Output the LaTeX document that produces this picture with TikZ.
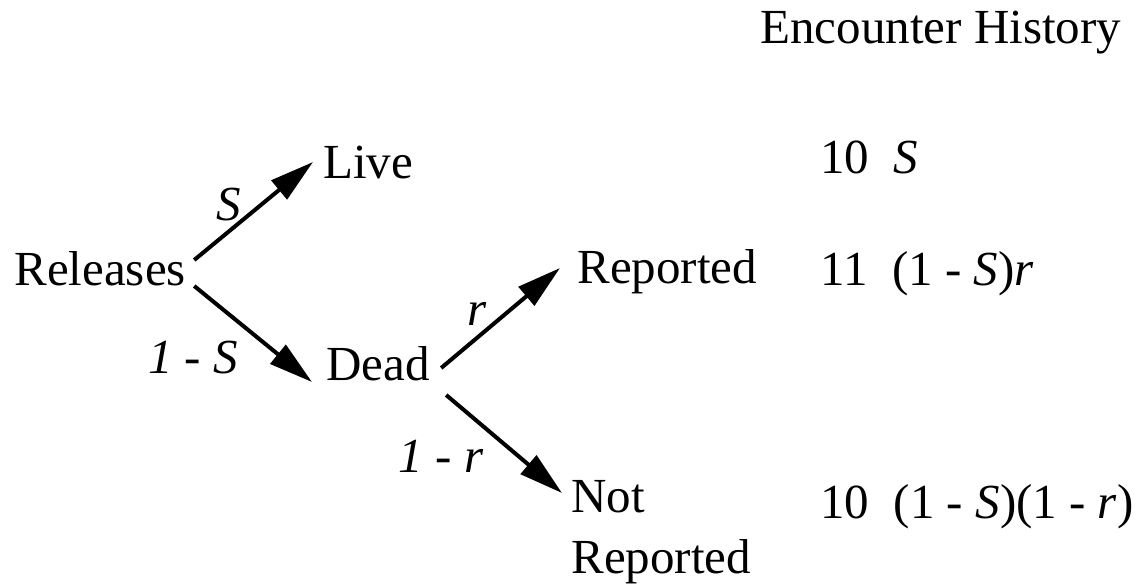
\documentclass[tikz,border=0pt]{standalone}
\usepackage{fontspec}
\setmainfont{Liberation Serif}
\usetikzlibrary{arrows.meta}

\begin{document}
\begin{tikzpicture}[x=0.5pt,y=0.5pt]
\fontsize{24.5}{30.5}\selectfont
\tikzstyle{stage}=[inner sep=0pt,anchor=base west]
\tikzstyle{prob}=[inner sep=0pt,anchor=base,font=\itshape]
\tikzstyle{arr}=[line width=2pt,-{Triangle[length=22pt,width=12pt]}]
\useasboundingbox (0,0) rectangle (1146,586);
\node [stage] (enc) at (760,543) {Encounter History};
\node [stage] (rel) at (14,301) {Releases};
\node [stage] (live) at (323,408) {Live};
\node [stage] (dead) at (326,206) {Dead};
\node [stage] (rep) at (577,303) {Reported};
\node [stage,align=left] (nrep) at (571,13) {Not\\Reported};
% encounter histories
\node [stage] (h1) at (820,413) {10~~\textit{S}};
\node [stage] (h2) at (820,301) {11~~(1 - \textit{S})\textit{r}};
\node [stage] (h3) at (820,68) {10~~(1 - \textit{S})(1 - \textit{r})};
% branches
\draw [arr] ([shift={(8,25)}]rel.base east) -- ([shift={(-10,16)}]live.base west);
\draw [arr] ([shift={(8,-1)}]rel.base east) -- ([shift={(-14,-2)}]dead.base west);
\draw [arr] ([shift={(11,12)}]dead.base east) -- ([shift={(-17,15)}]rep.base west);
\draw [arr] ([shift={(16,-15)}]dead.base east) -- ([shift={(-9,80)}]nrep.base west);
\node [prob] (pS) at (229,366) {S};
\node [prob] (pnS) at (193,213) {1 - S};
\node [prob] (pr) at (477,261) {r};
\node [prob] (pnr) at (441,114) {1 - r};
\end{tikzpicture}
\end{document}
